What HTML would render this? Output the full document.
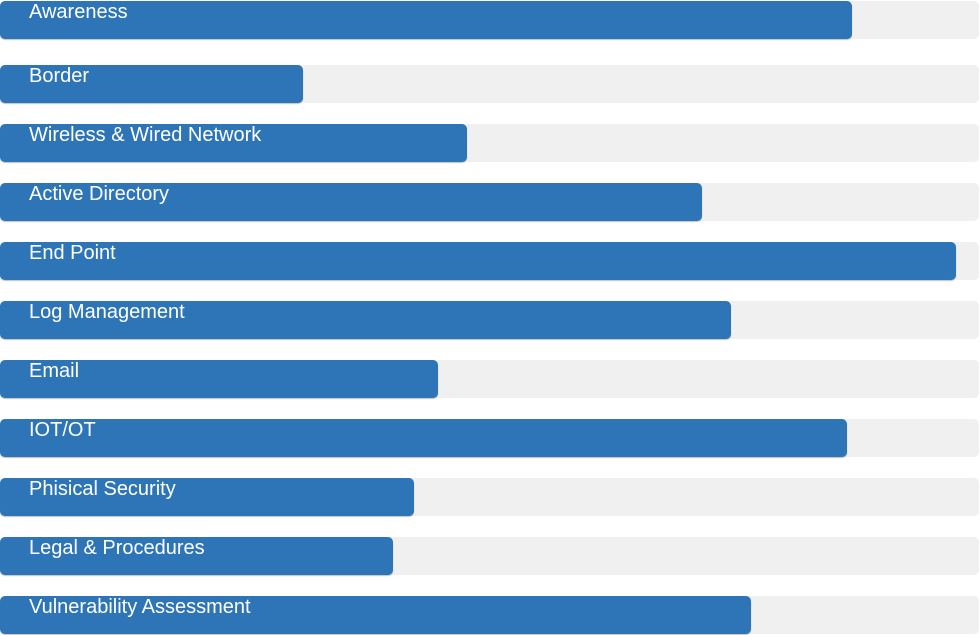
<!DOCTYPE html>
<html><head><meta charset="utf-8"><style>
html,body{margin:0;padding:0;background:#fff;width:980px;height:635px;overflow:hidden}
.track{position:absolute;left:0;width:979px;height:38px;background:#f0f0f0;border-radius:5px}
.bar{position:absolute;left:0;top:0;height:38px;background:#2e75b8;border-radius:5px;box-shadow:0 1px 1px rgba(0,0,0,.25)}
.lbl{position:absolute;left:29px;top:0;line-height:38px;color:#fff;font:20px "Liberation Sans",sans-serif;white-space:nowrap}
</style></head><body>
<div id="chart"></div>
<script>
const categories=["Awareness","Border","Wireless & Wired Network","Active Directory","End Point","Log Management","Email","IOT/OT","Phisical Security","Legal & Procedures","Vulnerability Assessment"];
const values=[87,31,47.7,71.7,97.7,74.7,44.7,86.5,42.3,40.1,76.7];
const tops=[1,65,124,183,242,301,360,419,478,537,596];
const maxVal=100, trackW=979;
function x(v){return v/maxVal*trackW;}
const c=document.getElementById('chart');
categories.forEach((cat,i)=>{
  const t=document.createElement('div');t.className='track';t.style.top=tops[i]+'px';
  
  
  const b=document.createElement('div');b.className='bar';b.style.width=x(values[i])+'px';
  
  
  const l=document.createElement('div');l.className='lbl';l.textContent=cat;
  
  
  t.appendChild(b);t.appendChild(l);c.appendChild(t);
});
</script>
</body></html>
